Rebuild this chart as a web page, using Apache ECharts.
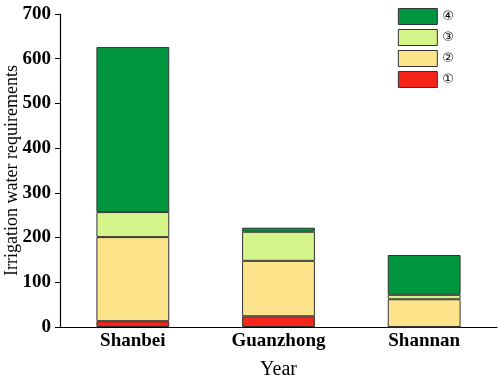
<!DOCTYPE html>
<html>
<head>
<meta charset="utf-8">
<script src="https://cdn.jsdelivr.net/npm/echarts@6/dist/echarts.min.js"></script>
<style>
  html, body { margin: 0; padding: 0; background: #fff; }
  #chart { width: 498px; height: 378px; }
</style>
</head>
<body>
<div id="chart"></div>
<script>
const categories = ['Shanbei', 'Guanzhong', 'Shannan'];
const part1 = [13, 24, 0];
const part2 = [188, 124, 62];
const part3 = [56, 65, 10];
const part4 = [369, 9, 89];
const yTicks = [0, 100, 200, 300, 400, 500, 600, 700];

const serif = '"Liberation Serif", "DejaVu Serif", serif';
const colors = ['#F5251A', '#FDE48A', '#D5F58A', '#00963F'];

const chart = echarts.init(document.getElementById('chart'));

function makeSeries(name, data, color) {
  return {
    name: name,
    type: 'bar',
    stack: 'total',
    barWidth: '50%',
    data: data,
    itemStyle: { color: color, borderColor: '#333', borderWidth: 1 }
  };
}

chart.setOption({
  animation: false,
  grid: { left: 60, right: 1, top: 14, bottom: 51, outerBoundsMode: 'none', containLabel: false },
  legend: {
    orient: 'vertical',
    right: 39,
    top: 3,
    icon: 'rect',
    itemWidth: 39,
    itemHeight: 16,
    itemGap: 4,
    data: ['④', '③', '②', '①'],
    textStyle: { fontFamily: '"DejaVu Sans", sans-serif', fontSize: 13, color: '#000' },
    itemStyle: { borderColor: '#333', borderWidth: 1 }
  },
  xAxis: {
    type: 'category',
    data: categories,
    name: 'Year',
    nameLocation: 'middle',
    nameGap: 33,
    nameMoveOverlap: false,
    nameTextStyle: { fontFamily: serif, fontSize: 20, color: '#000' },
    axisLine: { lineStyle: { color: '#000', width: 1.2 } },
    axisTick: { show: false },
    axisLabel: { fontFamily: serif, fontSize: 19, fontWeight: 'bold', color: '#000', margin: 5 }
  },
  yAxis: {
    type: 'value',
    min: yTicks[0],
    max: yTicks[yTicks.length - 1],
    interval: 100,
    name: 'Irrigation water requirements',
    nameLocation: 'middle',
    nameGap: 39,
    nameMoveOverlap: false,
    nameTextStyle: { fontFamily: serif, fontSize: 18, color: '#000' },
    axisLine: { show: true, lineStyle: { color: '#000', width: 1.2 } },
    axisTick: { show: true, length: 5, lineStyle: { color: '#000' } },
    splitLine: { show: false },
    axisLabel: { fontFamily: serif, fontSize: 19, fontWeight: 'bold', color: '#000', margin: 9 }
  },
  series: [
    makeSeries('①', part1, colors[0]),
    makeSeries('②', part2, colors[1]),
    makeSeries('③', part3, colors[2]),
    makeSeries('④', part4, colors[3])
  ]
});
</script>
</body>
</html>
